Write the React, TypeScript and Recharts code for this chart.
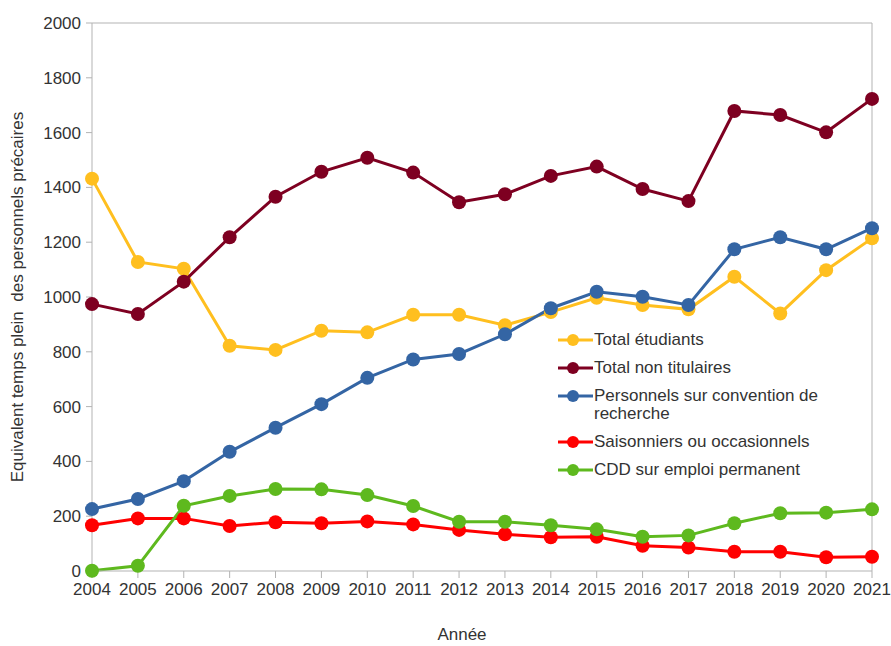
import { LineChart, Line, XAxis, YAxis, Legend, ReferenceLine } from "recharts";

const FONT = '"Liberation Sans", Arial, sans-serif';
const TEXT = "#333333";
const AXIS = "#b3b3b3";

const years = [
  "2004", "2005", "2006", "2007", "2008", "2009", "2010", "2011", "2012",
  "2013", "2014", "2015", "2016", "2017", "2018", "2019", "2020", "2021",
];
const yTicks = [0, 200, 400, 600, 800, 1000, 1200, 1400, 1600, 1800, 2000];

const totalEtudiants = [1432, 1128, 1103, 822, 807, 877, 871, 935, 935, 897, 945, 997, 971, 955, 1074, 940, 1098, 1214];
const totalNonTitulaires = [974, 938, 1056, 1218, 1366, 1457, 1508, 1454, 1346, 1375, 1442, 1476, 1394, 1350, 1679, 1664, 1601, 1723];
const conventionRecherche = [226, 263, 328, 435, 523, 609, 705, 772, 792, 864, 959, 1019, 1001, 971, 1174, 1218, 1174, 1251];
const saisonniers = [167, 192, 192, 164, 178, 174, 181, 170, 150, 134, 123, 125, 92, 86, 70, 70, 50, 52];
const cddPermanent = [1, 19, 238, 274, 299, 298, 277, 237, 180, 180, 167, 152, 125, 130, 174, 211, 213, 225];

const series = [
  { key: "etudiants", name: "Total étudiants", color: "#FFBF1F", values: totalEtudiants },
  { key: "nonTitulaires", name: "Total non titulaires", color: "#7E0021", values: totalNonTitulaires },
  { key: "convention", name: "Personnels sur convention de recherche", color: "#3465A4", values: conventionRecherche },
  { key: "saisonniers", name: "Saisonniers ou occasionnels", color: "#FF0000", values: saisonniers },
  { key: "cdd", name: "CDD sur emploi permanent", color: "#5EB91E", values: cddPermanent },
];

const data = years.map((year, i) => {
  const row: Record<string, string | number> = { year };
  series.forEach((s) => {
    row[s.key] = s.values[i];
  });
  return row;
});

function LegendBox() {
  return (
    <div style={{ fontFamily: FONT, fontSize: 17, color: TEXT, lineHeight: "18px" }}>
      {series.map((s) => (
        <div key={s.key} style={{ display: "flex", alignItems: "flex-start", marginBottom: 10 }}>
          <svg width={35} height={18} style={{ flex: "none" }}>
            <line x1={0} y1={9} x2={35} y2={9} stroke={s.color} strokeWidth={3} />
            <circle cx={15} cy={9} r={6} fill={s.color} />
          </svg>
          <div style={{ width: 232, marginLeft: 1 }}>{s.name}</div>
        </div>
      ))}
    </div>
  );
}

const YLabel = (props: any) => {
  const vb = props.viewBox || { x: 0, y: 23, width: 92, height: 548 };
  const cx = vb.x + 17;
  const cy = vb.y + vb.height / 2;
  return (
    <text
      x={cx}
      y={cy}
      transform={`rotate(-90, ${cx}, ${cy})`}
      textAnchor="middle"
      dominantBaseline="central"
      fill={TEXT}
      fontSize={17}
      fontFamily={FONT}
      xmlSpace="preserve"
    >
      Equivalent temps plein  des personnels précaires
    </text>
  );
};

const XLabel = (props: any) => {
  const vb = props.viewBox || { x: 92, y: 571, width: 780, height: 75 };
  return (
    <text
      x={vb.x + vb.width / 2 - 20}
      y={vb.y + vb.height - 6}
      textAnchor="middle"
      fill={TEXT}
      fontSize={17}
      fontFamily={FONT}
    >
      Année
    </text>
  );
};

export default function App() {
  return (
    <div style={{ position: "absolute", left: 0, top: 0, width: 891, height: 646, background: "#fff" }}>
      <LineChart width={891} height={646} data={data} margin={{ top: 23, right: 19, left: 0, bottom: 0 }}>
        <XAxis
          dataKey="year"
          height={75}
          interval={0}
          stroke={AXIS}
          tickSize={7}
          tickMargin={5}
          tick={{ fill: TEXT, fontSize: 17, fontFamily: FONT }}
          label={XLabel}
        />
        <YAxis
          width={92}
          domain={[0, 2000]}
          ticks={yTicks}
          interval={0}
          stroke={AXIS}
          tickSize={6}
          tickMargin={5}
          tick={{ fill: TEXT, fontSize: 17, fontFamily: FONT }}
          label={YLabel}
        />
        <ReferenceLine y={2000} stroke={AXIS} />
        <ReferenceLine x="2021" stroke={AXIS} />
        {series.map((s) => (
          <Line
            key={s.key}
            type="linear"
            dataKey={s.key}
            name={s.name}
            stroke={s.color}
            strokeWidth={3}
            dot={{ r: 7, fill: s.color, stroke: s.color, strokeWidth: 0 }}
            activeDot={false}
            isAnimationActive={false}
          />
        ))}
        <Legend
          layout="vertical"
          align="center"
          verticalAlign="middle"
          content={() => <LegendBox />}
          wrapperStyle={{ left: 558, top: 331, width: 300 }}
        />
      </LineChart>
    </div>
  );
}
